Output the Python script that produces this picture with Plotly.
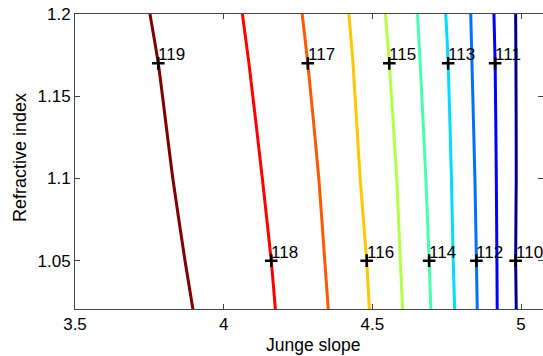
import plotly.graph_objects as go

# Contour levels and their colours (jet)
levels = [110, 111, 112, 113, 114, 115, 116, 117, 118, 119]
colors = ["#00008c", "#0000ff", "#0070ff", "#00dcff", "#48ffae",
          "#b4ff48", "#ffc800", "#ff5800", "#ff0000", "#800000"]

# Refractive index sample points along each contour
y_pts = [1.2, 1.17, 1.1, 1.05, 1.02]

# Junge slope of each contour at those refractive indices
x_110 = [4.982, 4.983, 4.984, 4.982, 4.984]
x_111 = [4.909, 4.913, 4.917, 4.919, 4.920]
x_112 = [4.831, 4.835, 4.845, 4.850, 4.853]
x_113 = [4.747, 4.755, 4.766, 4.772, 4.777]
x_114 = [4.652, 4.661, 4.680, 4.691, 4.697]
x_115 = [4.544, 4.557, 4.582, 4.594, 4.602]
x_116 = [4.421, 4.435, 4.459, 4.481, 4.490]
x_117 = [4.264, 4.283, 4.320, 4.340, 4.352]
x_118 = [4.063, 4.085, 4.130, 4.160, 4.174]
x_119 = [3.752, 3.780, 3.829, 3.870, 3.897]
contours_x = [x_110, x_111, x_112, x_113, x_114, x_115, x_116, x_117, x_118, x_119]

# Contour labels (marker position)
label_text = ["110", "111", "112", "113", "114", "115", "116", "117", "118", "119"]
label_x = [4.982, 4.913, 4.850, 4.755, 4.691, 4.557, 4.481, 4.283, 4.160, 3.780]
label_y = [1.05, 1.17, 1.05, 1.17, 1.05, 1.17, 1.05, 1.17, 1.05, 1.17]

x_ticks = [3.5, 4, 4.5, 5]
y_ticks = [1.05, 1.1, 1.15, 1.2]

FONT = "Liberation Sans, Arial, Helvetica"
W, H = 543, 356
L, R, T, B = 75, 0, 14, 47

fig = go.Figure()
for xs, c in zip(contours_x, colors):
    fig.add_trace(go.Scatter(x=xs, y=y_pts, mode="lines",
                             line=dict(color=c, width=3, shape="spline", smoothing=0.6),
                             hoverinfo="skip", showlegend=False))

fig.add_trace(go.Scatter(x=label_x, y=label_y, mode="markers",
                         marker=dict(symbol="cross-thin", size=9, color="black",
                                     line=dict(color="black", width=2.5)),
                         showlegend=False, hoverinfo="skip"))

for t, lx, ly in zip(label_text, label_x, label_y):
    fig.add_annotation(x=lx, y=ly, text=t, showarrow=False, xanchor="left",
                       yanchor="bottom", xshift=-2, yshift=-3,
                       font=dict(family=FONT, size=17, color="black"))

pw, ph = W - L - R, H - T - B
fig.add_annotation(text="Junge slope", xref="paper", yref="paper",
                   x=(313 - L) / pw, y=-(345 - (H - B)) / ph,
                   xanchor="center", yanchor="middle", showarrow=False,
                   font=dict(family=FONT, size=17.5, color="black"))
fig.add_annotation(text="Refractive index", xref="paper", yref="paper",
                   x=-(L - 20) / pw, y=((H - B) - 158) / ph, textangle=-90,
                   xanchor="center", yanchor="middle", showarrow=False,
                   font=dict(family=FONT, size=18, color="black"))

axis_common = dict(showgrid=False, zeroline=False, showline=True, linecolor="#444444",
                   linewidth=1, ticks="inside", ticklen=5, tickcolor="#444444",
                   mirror="ticks",
                   tickfont=dict(family=FONT, size=17, color="black"))

fig.update_layout(
    width=W, height=H,
    margin=dict(l=L, r=R, t=T, b=B),
    plot_bgcolor="white", paper_bgcolor="white",
    xaxis=dict(range=[3.5, 5.074], tickvals=x_ticks, ticktext=["3.5", "4", "4.5", "5"], **axis_common),
    yaxis=dict(range=[1.0206, 1.2], tickvals=y_ticks, ticktext=["1.05", "1.1", "1.15", "1.2"],
               **axis_common),
)

fig.write_html("out.html")
